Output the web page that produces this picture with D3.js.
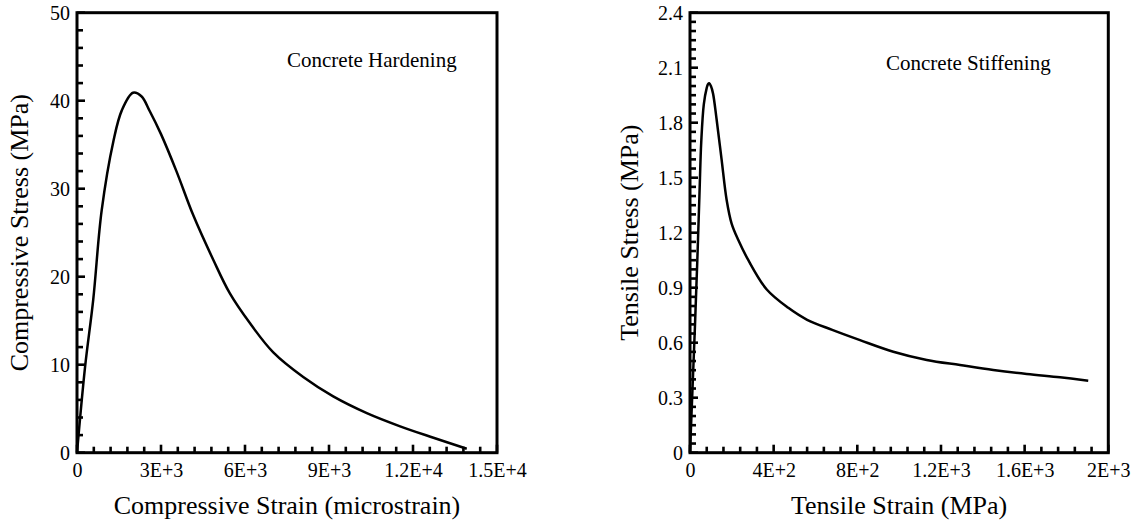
<!DOCTYPE html>
<html>
<head>
<meta charset="utf-8">
<script src="https://cdn.jsdelivr.net/npm/d3@7"></script>
<style>
  body { margin: 0; background: #fff; color: #000; }
  svg text { font-family: "Liberation Serif", "Times New Roman", serif; fill: #000; }
</style>
</head>
<body>
<div id="chart"></div>
<script>
// compressive curve (microstrain, MPa)
var compStrain = [0, 290, 580, 880, 1300, 1600, 2000, 2300, 2600, 3000, 3550, 4150, 4870, 5460, 6180, 7010, 8080, 9150, 10350, 11540, 12730, 13920];
var compStress = [0, 9.8, 17.4, 27.5, 35.4, 38.9, 40.9, 40.5, 38.8, 36.2, 32.0, 27.0, 21.9, 18.1, 14.7, 11.4, 8.6, 6.4, 4.5, 3.0, 1.7, 0.45];

// tensile curve
var tensStrain = [0, 12, 24, 35, 45, 54, 66, 80, 86, 92, 100, 110, 127, 151, 175, 199, 231, 279, 367, 470, 560, 680, 813, 972, 1132, 1291, 1450, 1610, 1769, 1904];
var tensStress = [0, 0.35, 0.7, 1.05, 1.4, 1.7, 1.9, 1.99, 2.01, 2.015, 2.0, 1.96, 1.82, 1.6, 1.38, 1.25, 1.16, 1.05, 0.89, 0.79, 0.725, 0.67, 0.614, 0.551, 0.506, 0.478, 0.451, 0.429, 0.411, 0.393];

var compXTicks = [0, 3000, 6000, 9000, 12000, 15000];
var compXLabels = ["0", "3E+3", "6E+3", "9E+3", "1.2E+4", "1.5E+4"];
var compYTicks = [0, 10, 20, 30, 40, 50];
var compYLabels = ["0", "10", "20", "30", "40", "50"];

var tensXTicks = [0, 400, 800, 1200, 1600, 2000];
var tensXLabels = ["0", "4E+2", "8E+2", "1.2E+3", "1.6E+3", "2E+3"];
var tensYTicks = [0, 0.3, 0.6, 0.9, 1.2, 1.5, 1.8, 2.1, 2.4];
var tensYLabels = ["0", "0.3", "0.6", "0.9", "1.2", "1.5", "1.8", "2.1", "2.4"];

var svg = d3.select("#chart").append("svg")
  .attr("width", 1136)
  .attr("height", 527);

svg.append("rect").attr("width", 1136).attr("height", 527).attr("fill", "#fff");

function drawPanel(o) {
  var x = d3.scaleLinear().domain(o.xDomain).range([o.left, o.right]);
  var y = d3.scaleLinear().domain(o.yDomain).range([o.bottom, o.top]);

  var xMinor = d3.range(o.xDomain[0], o.xDomain[1] + o.xMinorStep / 2, o.xMinorStep);
  var yMinor = d3.range(o.yDomain[0], o.yDomain[1] + o.yMinorStep / 2, o.yMinorStep);

  // inward tick marks along bottom and left sides
  var ticks = svg.append("g").attr("stroke", "#000").attr("stroke-width", 2.6);
  ticks.selectAll(".xm").data(xMinor).enter().append("line")
    .attr("x1", function(d) { return x(d); }).attr("x2", function(d) { return x(d); })
    .attr("y1", o.bottom).attr("y2", function(d, i) { return o.bottom - (i % o.xEvery === 0 ? 8 : 6); });
  ticks.selectAll(".ym").data(yMinor).enter().append("line")
    .attr("y1", function(d) { return y(d); }).attr("y2", function(d) { return y(d); })
    .attr("x1", o.left).attr("x2", function(d, i) { return o.left + (i % o.yEvery === 0 ? 8 : 6); });

  // labels through the axis generators
  svg.append("g")
    .attr("transform", "translate(0," + o.bottom + ")")
    .call(d3.axisBottom(x).tickValues(o.xTicks).tickSize(0).tickPadding(10)
      .tickFormat(function(d, i) { return o.xLabels[i]; }))
    .call(function(g) {
      g.select(".domain").remove();
      g.selectAll("text").attr("font-size", 20).attr("font-family", null);
    });

  svg.append("g")
    .attr("transform", "translate(" + o.left + ",0)")
    .call(d3.axisLeft(y).tickValues(o.yTicks).tickSize(0).tickPadding(7)
      .tickFormat(function(d, i) { return o.yLabels[i]; }))
    .call(function(g) {
      g.select(".domain").remove();
      g.selectAll("text").attr("font-size", 20).attr("font-family", null);
    });

  // frame
  svg.append("rect")
    .attr("x", o.left).attr("y", o.top)
    .attr("width", o.right - o.left).attr("height", o.bottom - o.top)
    .attr("fill", "none").attr("stroke", "#000").attr("stroke-width", 3);

  // curve
  var pts = o.xs.map(function(v, i) { return [v, o.ys[i]]; });
  svg.append("path")
    .datum(pts)
    .attr("fill", "none")
    .attr("stroke", "#000")
    .attr("stroke-width", 2.5)
    .attr("stroke-linejoin", "round")
    .attr("d", d3.line().curve(d3.curveCatmullRom.alpha(0.5))
      .x(function(d) { return x(d[0]); }).y(function(d) { return y(d[1]); }));

  // titles
  svg.append("text")
    .attr("x", (o.left + o.right) / 2).attr("y", 514)
    .attr("text-anchor", "middle").attr("font-size", 26)
    .text(o.xTitle);

  svg.append("text")
    .attr("transform", "translate(" + o.yTitleX + "," + ((o.top + o.bottom) / 2) + ") rotate(-90)")
    .attr("text-anchor", "middle").attr("font-size", 26)
    .text(o.yTitle);

  svg.append("text")
    .attr("x", o.noteX).attr("y", o.noteY)
    .attr("font-size", 21)
    .text(o.note);
}

drawPanel({
  left: 77, right: 497, top: 12.7, bottom: 452.7,
  xDomain: [0, 15000], yDomain: [0, 50],
  xMinorStep: 600, yMinorStep: 2, xEvery: 5, yEvery: 5,
  xTicks: compXTicks, xLabels: compXLabels,
  yTicks: compYTicks, yLabels: compYLabels,
  xs: compStrain, ys: compStress,
  xTitle: "Compressive Strain (microstrain)",
  yTitle: "Compressive Stress (MPa)", yTitleX: 28,
  note: "Concrete Hardening", noteX: 287, noteY: 67
});

drawPanel({
  left: 690, right: 1108.3, top: 12.7, bottom: 452.7,
  xDomain: [0, 2000], yDomain: [0, 2.4],
  xMinorStep: 80, yMinorStep: 0.05, xEvery: 5, yEvery: 6,
  xTicks: tensXTicks, xLabels: tensXLabels,
  yTicks: tensYTicks, yLabels: tensYLabels,
  xs: tensStrain, ys: tensStress,
  xTitle: "Tensile Strain (MPa)",
  yTitle: "Tensile Stress (MPa)", yTitleX: 638,
  note: "Concrete Stiffening", noteX: 886, noteY: 70
});
</script>
</body>
</html>
